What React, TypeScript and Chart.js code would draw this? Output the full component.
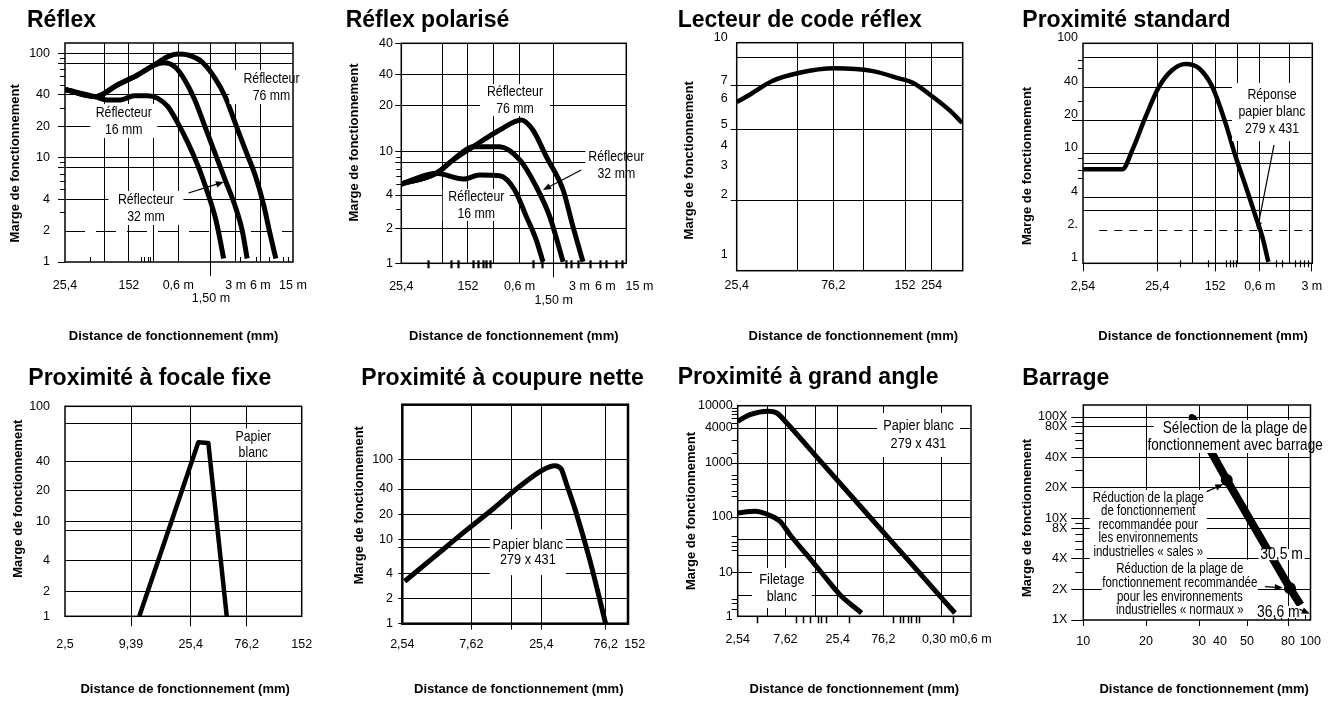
import React, { useEffect, useRef } from 'react';
import { Chart, Scale, registerables } from 'chart.js';

type Pt = [number, number];

// ================= DATA =================
// --- Réflex ---
const reflexXTicks = [25.4, 76.2, 152.4, 304.8, 609.6, 1524, 3048, 6096, 15240];
const reflexXLabels = ['25,4', '', '152', '', '0,6 m', '\n1,50 m', '3 m', '6 m', '15 m'];
const reflexYTicks = [1, 2, 4, 8, 10, 20, 40, 80, 100];
const reflexYLabels = ['1', '2', '4', '', '10', '20', '40', '', '100'];
const reflex16: Pt[] = [[25.4, 45], [59.5, 38.4], [83, 35.7], [121, 35.7], [177, 39.3], [258, 39.3], [343, 37], [456, 30.8], [605, 21.3], [805, 13.7], [1069, 8.2], [1353, 4.9], [1712, 2.72], [1976, 1.62], [2174, 1.08]];
const reflex32: Pt[] = [[25.4, 45], [59.5, 38.4], [110, 49.7], [194.5, 62], [312, 77.3], [414, 81.3], [551, 74.4], [731, 55.5], [970, 35.7], [1290, 19.8], [1712, 11], [2276, 6.1], [3023, 3.39], [3655, 2.03], [4213, 1.08]];
const reflex76: Pt[] = [[25.4, 45], [59.5, 38.4], [110, 49.7], [194.5, 62], [312, 77.3], [456, 92.9], [605, 98.5], [805, 96.3], [1174, 83.1], [1712, 57.6], [2276, 38.4], [3023, 21.3], [4016, 11.8], [5336, 6.6], [6772, 3.39], [7800, 2.03], [9416, 1.08]];

// --- Réflex polarisé ---
const polarYTicks = [1, 2, 4, 8, 10, 20, 40, 100];
const polarYLabels = ['1', '2', '4', '', '10', '20', '40', '40'];
const polar16: Pt[] = [[25.4, 5.05], [65, 6.33], [134, 5.6], [208, 6.1], [357, 6.0], [534, 4.45], [731, 2.55], [953, 1.59], [1143, 1.03]];
const polar32: Pt[] = [[25.4, 5.05], [65, 6.33], [102, 8.4], [175, 10.8], [357, 10.8], [613, 8.4], [953, 4.77], [1371, 2.55], [1962, 1.03]];
const polar76: Pt[] = [[25.4, 5.05], [65, 6.33], [102, 8.4], [175, 10.8], [357, 13.9], [638, 16.2], [872, 13.9], [1250, 9.0], [1962, 4.45], [2558, 2.07], [3348, 1.03]];

// --- Lecteur de code réflex ---
const codeXTicks = [25.4, 50.8, 76.2, 101.6, 152.4, 254];
const codeXLabels = ['25,4', '', '76,2', '', '152', '254'];
const codeYTicks = [1, 2, 3, 4, 5, 6, 7, 9, 10];
const codeYLabels = ['1', '2', '3', '4', '5', '6', '7', '', '10'];
const codeCurve: Pt[] = [[25.4, 6.1], [29.3, 6.47], [38.1, 7.3], [51.9, 7.86], [77, 8.18], [111.7, 7.98], [143.6, 7.48], [176.7, 7.19], [259, 6.38], [355, 5.75], [455, 5.24]];

// --- Proximité standard ---
const stdXTicks = [2.54, 25.4, 76.2, 152.4, 304.8, 609.6, 1524, 3048];
const stdXLabels = ['2,54', '25,4', '', '152', '', '0,6 m', '', '3 m'];
const stdYTicks = [1, 2, 3, 4, 8, 10, 20, 40, 75, 100];
const stdYLabels = ['1', '2.', '', '4', '', '10', '20', '40', '', '100'];
const stdCurve: Pt[] = [[2.54, 7.16], [8.6, 7.16], [11.7, 10.7], [17.7, 21.5], [26.8, 40.3], [40.4, 57.2], [61.1, 64.9], [92.4, 59.3], [139.5, 40.3], [211, 18.7], [288, 9.3], [394, 5.0], [536, 2.65], [657, 1.75], [793, 1.03]];

// --- Proximité à focale fixe ---
const focXTicks = [2.5, 9.39, 25.4, 76.2, 152];
const focXLabels = ['2,5', '9,39', '25,4', '76,2', '152'];
const focYTicks = [1, 2, 4, 8, 10, 20, 40, 75, 100];
const focYLabels = ['1', '2', '4', '', '10', '20', '40', '', '100'];
const focCurve: Pt[] = [[10.78, 1], [29.5, 54.9], [35.9, 54.3], [51.5, 1]];

// --- Proximité à coupure nette ---
const cutXTicks = [2.54, 7.62, 15.24, 25.4, 76.2, 152];
const cutXLabels = ['2,54', '7,62', '', '25,4', '76,2', '152'];
const cutYTicks = [1, 2, 4, 8, 10, 20, 40, 100];
const cutYLabels = ['1', '2', '4', '', '10', '20', '40', '100'];
const cutCurve: Pt[] = [[2.64, 3.2], [4.14, 6.07], [7.02, 12.9], [11.2, 23.5], [17.6, 43.5], [26.2, 72.9], [31.9, 82.5], [35.7, 74.3], [38.8, 48.2], [46.1, 20.8], [58, 5.78], [76.2, 1]];

// --- Proximité à grand angle ---
const wideXTicks = [2.54, 5.08, 7.62, 15.24, 25.4, 76.2, 304.8, 609.6];
const wideXLabels = ['2,54', '', '7,62', '', '25,4', '76,2', '0,30 m', '0,6 m'];
const wideYTicks = [1, 3, 10, 20, 40, 100, 200, 1000, 4000, 10000];
const wideYLabels = ['1', '', '10', '', '', '100', '', '1000', '4000', '10000'];
const wideWhite: Pt[] = [[2.54, 5270], [3.37, 6910], [5.13, 7950], [6.25, 7410], [7.86, 4920], [15.4, 1315], [50.1, 121], [167, 11.5], [402, 1.19]];
const wideThread: Pt[] = [[2.54, 118.6], [3.78, 127.5], [5.13, 110], [6.72, 83.6], [8.46, 47.9], [12.45, 20.8], [18.2, 8.8], [26.8, 3.1], [45.2, 1.19]];

// --- Barrage ---
const barXTicks = [10, 20, 30, 40, 50, 80, 100];
const barXLabels = ['10', '20', '30', '40', '50', '80', '100'];
const barYTicks = [1, 2, 4, 8, 10, 20, 40, 80, 100];
const barYLabels = ['1X', '2X', '4X', '8X', '10X', '20X', '40X', '80X', '100X'];
const barLine: Pt[] = [[28.4, 100], [42.3, 24], [81.6, 2.05], [90.6, 1.41]];
const barDots: Pt[] = [[42.3, 24], [81.6, 2.05]];
const barStart: Pt[] = [[28.4, 100]];

const Y_TITLE = 'Marge de fonctionnement';
const X_TITLE = 'Distance de fonctionnement (mm)';

// ================= FONTS =================
const SANS = "'Liberation Sans', Arial, Helvetica, sans-serif";
const NARROW_SCALE = 0.82;

// ================= KNOT (piecewise log) SCALE =================
interface AxisDef { kv: number[]; kf: number[]; ticks: number[] }
const AXES: Record<string, AxisDef> = {};

class KnotScale extends Scale {
  static id = 'knot';
  static defaults = {};
  determineDataLimits() {
    const d = AXES[(this.options as any).knotKey];
    (this as any)._def = d;
    this.min = this._valAt(0);
    this.max = this._valAt(1);
  }
  buildTicks() {
    return (this as any)._def.ticks.map((value: number) => ({ value }));
  }
  getLabelForValue(v: number) { return String(v); }
  _fracOf(v: number) {
    const { kv, kf } = (this as any)._def as AxisDef;
    const lv = Math.log10(v);
    let i = 0;
    while (i < kv.length - 2 && lv > kv[i + 1]) i++;
    return kf[i] + ((kf[i + 1] - kf[i]) * (lv - kv[i])) / (kv[i + 1] - kv[i]);
  }
  _valAt(f: number) {
    const { kv, kf } = (this as any)._def as AxisDef;
    let i = 0;
    while (i < kf.length - 2 && f > kf[i + 1]) i++;
    return Math.pow(10, kv[i] + ((kv[i + 1] - kv[i]) * (f - kf[i])) / (kf[i + 1] - kf[i]));
  }
  getPixelForValue(v: number) { return this.getPixelForDecimal(this._fracOf(v)); }
  getValueForPixel(p: number) { return this._valAt(this.getDecimalForPixel(p)); }
}

Chart.register(...registerables, KnotScale as any);

// ================= PANEL LAYOUT =================
interface AxisCfg { knots: Pt[]; ticks: number[]; labels: string[]; grid: number[]; marks: number[]; tl: number; pad: number; offset?: number }
interface Series { data: Pt[]; width: number; smooth: boolean }
interface Note { x: number; y: number; lines: string[]; w: number; h: number; size: number; lh: number }
interface Minor { values: number[]; a: number; b: number; w: number }
interface Panel {
  title: string; tx: number; tb: number; left: number; top: number;
  plot: [number, number, number, number];
  x: AxisCfg; y: AxisCfg; yTitleX: number; frame: number;
  xShift: number; yShift: number; // title centring nudges, in spaces (+ = lead, - = trail)
  series: Series[]; dots?: { data: Pt[]; r: number }[];
  dashed?: { y: number; from?: number; dash: number[] }[];
  notes?: Note[]; arrows?: { from: Pt; to: Pt }[];
  minorX?: Minor; minorY?: Minor;
}

const W = 333;
const H = 353;

const PANELS: Panel[] = [
  {
    title: 'Réflex', tx: 27, tb: 27, left: 0, top: 0, plot: [65, 43, 293, 262], yTitleX: 15, frame: 1.5, xShift: -3, yShift: -6,
    x: { knots: [[25.4, 65], [15240, 293]], ticks: reflexXTicks, labels: reflexXLabels, grid: [76.2, 152.4, 304.8, 609.6, 1524, 3048, 6096], marks: [1524], tl: 14, pad: 2.7 },
    y: { knots: [[1, 262], [100, 53.3]], ticks: reflexYTicks, labels: reflexYLabels, grid: [4, 8, 10, 20, 40, 80, 100], marks: [1, 4, 8, 10, 20, 40, 80, 100], tl: 7, pad: 8 },
    series: [{ data: reflex16, width: 5, smooth: true }, { data: reflex32, width: 5, smooth: true }, { data: reflex76, width: 5, smooth: true }],
    dashed: [{ y: 2, dash: [20, 11] }],
    notes: [
      { x: 8330, y: 47.5, lines: ['Réflecteur', '76 mm'], w: 84, h: 34, size: 15, lh: 17 },
      { x: 132, y: 22.5, lines: ['Réflecteur', '16 mm'], w: 67, h: 34, size: 15, lh: 17 },
      { x: 246, y: 3.3, lines: ['Réflecteur', '32 mm'], w: 75, h: 34, size: 15, lh: 17 },
    ],
    arrows: [{ from: [811, 4.58], to: [2193, 5.85] }],
    minorX: { values: [51.6, 213, 234, 259, 279, 3480, 5330, 7790, 11400, 13100], a: -5, b: 0, w: 1 },
    minorY: { values: [3, 5, 6, 7, 9, 30, 50, 60, 70, 90], a: -5, b: 0, w: 1 },
  },
  {
    title: 'Réflex polarisé', tx: 345.7, tb: 27, left: 333, top: 0, plot: [401.3, 43.3, 626.3, 263.3], yTitleX: 21.7, frame: 1.5, xShift: 0, yShift: 6,
    x: { knots: [[25.4, 401.3], [15240, 639.4]], ticks: reflexXTicks, labels: reflexXLabels, grid: [76.2, 152.4, 304.8, 609.6, 1524], marks: [1524], tl: 14, pad: 3.1 },
    y: { knots: [[1, 263.3], [2, 228.3], [4, 195], [10, 151.7], [20, 106], [40, 75], [100, 43.3]], ticks: polarYTicks, labels: polarYLabels, grid: [2, 4, 8, 10, 20, 40], marks: [1, 2, 4, 8, 10, 20, 40, 100], tl: 6, pad: 2.3 },
    series: [{ data: polar16, width: 5, smooth: true }, { data: polar32, width: 5, smooth: true }, { data: polar76, width: 5, smooth: true }],
    notes: [
      { x: 539, y: 22.9, lines: ['Réflecteur', '76 mm'], w: 70, h: 32, size: 15, lh: 17 },
      { x: 8199, y: 7.55, lines: ['Réflecteur', '32 mm'], w: 62, h: 30, size: 15, lh: 17 },
      { x: 190.5, y: 3.25, lines: ['Réflecteur', '16 mm'], w: 67, h: 32, size: 15, lh: 17 },
    ],
    arrows: [{ from: [3198, 6.79], to: [1143, 4.45] }],
    minorX: { values: [52, 97, 116, 174, 201, 226, 250, 279, 868, 1112, 2128, 2440, 2930, 4030, 5240, 6270, 8230, 9430], a: -3, b: 5, w: 2.2 },
    minorY: { values: [3, 5, 6, 7, 9], a: -5, b: 0, w: 1 },
  },
  {
    title: 'Lecteur de code réflex', tx: 677.7, tb: 27, left: 666, top: 0, plot: [736.7, 42.7, 962.7, 270.7], yTitleX: 23.3, frame: 1.5, xShift: 2, yShift: -2,
    x: { knots: [[25.4, 736.7], [76.2, 833.3], [152.4, 905], [254, 931.7], [460, 962.7]], ticks: codeXTicks, labels: codeXLabels, grid: [50.8, 76.2, 101.6, 152.4, 254], marks: [], tl: 0, pad: 8 },
    y: { knots: [[0.88, 270.7], [1, 260], [2, 200], [3, 171], [4, 151], [5, 129.3], [6, 104], [7, 85.7], [9, 57.7], [10, 42.7]], ticks: codeYTicks, labels: codeYLabels, grid: [2, 5, 7, 9], marks: [2, 5, 7], tl: 6, pad: 3, offset: -5 },
    series: [{ data: codeCurve, width: 4.5, smooth: true }],
  },
  {
    title: 'Proximité standard', tx: 1022.3, tb: 27, left: 999, top: 0, plot: [1083, 43.3, 1312.3, 263.3], yTitleX: 28.3, frame: 1.5, xShift: 3, yShift: -7,
    x: { knots: [[2.54, 1083], [3048, 1311.8]], ticks: stdXTicks, labels: stdXLabels, grid: [25.4, 76.2, 152.4, 304.8, 609.6, 1524], marks: [2.54, 25.4, 152.4, 609.6, 3048], tl: 8, pad: 8.4 },
    y: { knots: [[1, 263.3], [100, 43.3]], ticks: stdYTicks, labels: stdYLabels, grid: [3, 4, 8, 10, 20, 40, 75], marks: [20], tl: 11, pad: -6, offset: -6 },
    series: [{ data: stdCurve, width: 4.5, smooth: true }],
    dashed: [{ y: 2, from: 4.2, dash: [8, 7] }],
    notes: [{ x: 888, y: 23.7, lines: ['Réponse', 'papier blanc', '279 x 431'], w: 80, h: 58, size: 15, lh: 17 }],
    arrows: [{ from: [945, 11.9], to: [563, 2.01] }],
    minorX: { values: [52, 123, 211, 240, 265, 288, 994, 1214, 1815, 2100, 2400, 2740], a: -3, b: 4, w: 1.2 },
    minorY: { values: [6, 7, 9, 30, 60, 70], a: -5, b: 0, w: 1 },
  },
  {
    title: 'Proximité à focale fixe', tx: 28.3, tb: 385, left: 0, top: 353, plot: [65, 406.3, 301.7, 616.3], yTitleX: 18.3, frame: 1.5, xShift: 1, yShift: 7,
    x: { knots: [[2.5, 65], [9.39, 131], [25.4, 190.7], [76.2, 246.7], [152, 301.7]], ticks: focXTicks, labels: focXLabels, grid: [9.39, 25.4, 76.2], marks: [9.39, 25.4, 76.2], tl: 10, pad: 12 },
    y: { knots: [[1, 616.3], [2, 591.3], [4, 560.3], [10, 521.3], [20, 490.3], [40, 461.3], [100, 406.3]], ticks: focYTicks, labels: focYLabels, grid: [2, 4, 8, 10, 20, 40, 75], marks: [], tl: 0, pad: 15 },
    series: [{ data: focCurve, width: 4.5, smooth: false }],
    notes: [{ x: 82.8, y: 53, lines: ['Papier', 'blanc'], w: 46, h: 32, size: 15, lh: 16 }],
  },
  {
    title: 'Proximité à coupure nette', tx: 361.3, tb: 385, left: 333, top: 353, plot: [402.3, 404.7, 628, 623.7], yTitleX: 26.7, frame: 2.5, xShift: 2, yShift: 5,
    x: { knots: [[2.54, 402.3], [7.62, 471.3], [15.24, 511.3], [25.4, 541.3], [76.2, 605.7], [152, 634.7]], ticks: cutXTicks, labels: cutXLabels, grid: [7.62, 15.24, 25.4, 76.2], marks: [7.62, 15.24, 25.4, 76.2], tl: 6, pad: 8.7 },
    y: { knots: [[1, 623.7], [10, 539.7], [40, 489], [100, 459.5]], ticks: cutYTicks, labels: cutYLabels, grid: [2, 4, 8, 10, 20, 40, 100], marks: cutYTicks, tl: 4, pad: 5.3 },
    series: [{ data: cutCurve, width: 5, smooth: true }],
    notes: [{ x: 20.2, y: 7.1, lines: ['Papier blanc', '279 x 431'], w: 76, h: 46, size: 15.5, lh: 15 }],
  },
  {
    title: 'Proximité à grand angle', tx: 677.7, tb: 384, left: 666, top: 353, plot: [737.7, 405.7, 971, 616.3], yTitleX: 25, frame: 1.5, xShift: 0, yShift: 0,
    x: { knots: [[2.54, 737.7], [25.4, 837.7], [76.2, 883.3], [304.8, 941], [609.6, 976]], ticks: wideXTicks, labels: wideXLabels, grid: [5.08, 7.62, 15.24, 25.4, 76.2, 304.8], marks: [], tl: 0, pad: 17 },
    y: { knots: [[1, 616.3], [10, 572.3], [100, 517], [1000, 463], [4000, 428], [10000, 405.7]], ticks: wideYTicks, labels: wideYLabels, grid: [3, 10, 20, 40, 100, 200, 1000, 4000], marks: [10, 100, 1000, 4000], tl: 6, pad: -1 },
    series: [{ data: wideWhite, width: 5, smooth: true }, { data: wideThread, width: 5, smooth: true }],
    notes: [
      { x: 177.5, y: 3034, lines: ['Papier blanc', '279 x 431'], w: 83, h: 44, size: 15.5, lh: 18 },
      { x: 7.03, y: 4.4, lines: ['Filetage', 'blanc'], w: 60, h: 40, size: 15.5, lh: 17 },
    ],
    minorX: { values: [4, 9.8, 11.4, 13.3, 16, 17.3, 19.5, 33.5, 97, 113, 122, 137, 148, 167, 180, 390], a: 0, b: 7, w: 1.5 },
    minorY: { values: [1.5, 2, 2.5, 25, 30, 35, 45, 250, 300, 400, 500, 600, 1500, 2500, 5000, 6000, 7000, 8000, 9000], a: -6, b: 0, w: 1 },
  },
  {
    title: 'Barrage', tx: 1022.3, tb: 385, left: 999, top: 353, plot: [1083.3, 405, 1310.5, 620], yTitleX: 28.3, frame: 1.5, xShift: 4, yShift: -3,
    x: { knots: [[10, 1083.3], [20, 1146], [30, 1199], [40, 1220], [50, 1247], [80, 1288], [100, 1310.5]], ticks: barXTicks, labels: barXLabels, grid: [20, 30, 50, 80], marks: [10, 20, 30, 50, 80], tl: 6, pad: 9 },
    y: { knots: [[1, 620], [100, 417]], ticks: barYTicks, labels: barYLabels, grid: [2, 4, 8, 10, 20, 40, 80, 100], marks: barYTicks, tl: 12, pad: 4 },
    series: [{ data: barLine, width: 8, smooth: false }],
    dots: [{ data: barDots, r: 6 }, { data: barStart, r: 3 }],
    notes: [
      { x: 45.3, y: 64.3, lines: ['Sélection de la plage de', 'fonctionnement avec barrage'], w: 163, h: 33, size: 16.5, lh: 17 },
      { x: 20.35, y: 8.63, lines: ['Réduction de la plage', 'de fonctionnement', 'recommandée pour', 'les environnements', 'industrielles « sales »'], w: 117, h: 70, size: 14, lh: 13.4 },
      { x: 74.4, y: 4.4, lines: ['30,5 m'], w: 46, h: 11, size: 17, lh: 16 },
      { x: 25.9, y: 1.98, lines: ['Réduction de la plage de', 'fonctionnement recommandée', 'pour les environnements', 'industrielles « normaux »'], w: 156, h: 60, size: 14, lh: 13.7 },
      { x: 71.6, y: 1.2, lines: ['36,6 m'], w: 46, h: 12, size: 17, lh: 16 },
    ],
    arrows: [
      { from: [33.3, 18.4], to: [41.1, 21.7] },
      { from: [61.5, 2.13], to: [75.3, 2.08] },
      { from: [89.6, 1.28], to: [99.3, 1.15] },
    ],
    minorX: { values: [42, 56, 61, 69, 74, 86, 95], a: -5, b: 0, w: 1 },
    minorY: { values: [3, 5, 6, 7, 9, 30, 50, 60, 70, 90], a: -8, b: 0, w: 1 },
  },
];

// ================= PLUGIN =================
function drawArrow(ctx: CanvasRenderingContext2D, x1: number, y1: number, x2: number, y2: number) {
  const ang = Math.atan2(y2 - y1, x2 - x1);
  const hl = 8, hw = 3.2;
  ctx.beginPath();
  ctx.moveTo(x1, y1);
  ctx.lineTo(x2 - Math.cos(ang) * hl * 0.8, y2 - Math.sin(ang) * hl * 0.8);
  ctx.stroke();
  ctx.beginPath();
  ctx.moveTo(x2, y2);
  ctx.lineTo(x2 - Math.cos(ang) * hl - Math.sin(ang) * hw, y2 - Math.sin(ang) * hl + Math.cos(ang) * hw);
  ctx.lineTo(x2 - Math.cos(ang) * hl + Math.sin(ang) * hw, y2 - Math.sin(ang) * hl - Math.cos(ang) * hw);
  ctx.closePath();
  ctx.fill();
}

function extras(p: Panel) {
  return {
    id: 'extras',
    beforeDatasetsDraw(chart: any) {
      const { ctx, chartArea: a } = chart;
      const xs = chart.scales.x, ys = chart.scales.y;
      ctx.save();
      ctx.strokeStyle = '#000';
      for (const d of p.dashed || []) {
        const py = Math.round(ys.getPixelForValue(d.y)) + 0.5;
        const x0 = d.from ? xs.getPixelForValue(d.from) : a.left;
        ctx.lineWidth = 1.2;
        ctx.setLineDash(d.dash);
        ctx.beginPath();
        ctx.moveTo(x0, py);
        ctx.lineTo(a.right, py);
        ctx.stroke();
      }
      ctx.setLineDash([]);
      if (p.minorX) {
        ctx.lineWidth = p.minorX.w;
        for (const v of p.minorX.values) {
          const px = Math.round(xs.getPixelForValue(v)) + 0.5;
          ctx.beginPath();
          ctx.moveTo(px, a.bottom + p.minorX.a);
          ctx.lineTo(px, a.bottom + p.minorX.b);
          ctx.stroke();
        }
      }
      if (p.minorY) {
        ctx.lineWidth = p.minorY.w;
        for (const v of p.minorY.values) {
          const py = Math.round(ys.getPixelForValue(v)) + 0.5;
          ctx.beginPath();
          ctx.moveTo(a.left + p.minorY.a, py);
          ctx.lineTo(a.left + p.minorY.b, py);
          ctx.stroke();
        }
      }
      ctx.restore();
    },
    afterDatasetsDraw(chart: any) {
      const { ctx, chartArea: a } = chart;
      const xs = chart.scales.x, ys = chart.scales.y;
      ctx.save();
      for (const n of p.notes || []) {
        const cx = xs.getPixelForValue(n.x), cy = ys.getPixelForValue(n.y);
        ctx.fillStyle = '#fff';
        ctx.fillRect(cx - n.w / 2, cy - n.h / 2, n.w, n.h);
      }
      ctx.fillStyle = '#000';
      ctx.textAlign = 'center';
      ctx.textBaseline = 'middle';
      for (const n of p.notes || []) {
        const cx = xs.getPixelForValue(n.x), cy = ys.getPixelForValue(n.y);
        ctx.font = `${n.size}px ${SANS}`;
        n.lines.forEach((t, i) => {
          ctx.save();
          ctx.translate(cx, cy + (i - (n.lines.length - 1) / 2) * n.lh);
          ctx.scale(NARROW_SCALE, 1);
          ctx.fillText(t, 0, 0);
          ctx.restore();
        });
      }
      ctx.strokeStyle = '#000';
      ctx.lineWidth = 1.2;
      for (const ar of p.arrows || []) {
        drawArrow(ctx, xs.getPixelForValue(ar.from[0]), ys.getPixelForValue(ar.from[1]), xs.getPixelForValue(ar.to[0]), ys.getPixelForValue(ar.to[1]));
      }
      ctx.lineWidth = p.frame;
      ctx.strokeRect(a.left, a.top, a.right - a.left, a.bottom - a.top);
      ctx.restore();
    },
  };
}

function splitLabel(s: string | undefined) {
  if (!s) return '';
  return s.includes('\n') ? s.split('\n') : s;
}

// nudge a centred title along its axis with plain spacing
function nudge(text: string, n: number) {
  const sp = ' '.repeat(Math.abs(n));
  return n > 0 ? sp + text : n < 0 ? text + sp : text;
}

function buildChart(canvas: HTMLCanvasElement, p: Panel, idx: number) {
  const [L, T, R, B] = p.plot;
  const kx = `p${idx}x`, ky = `p${idx}y`;
  AXES[kx] = { kv: p.x.knots.map((k) => Math.log10(k[0])), kf: p.x.knots.map((k) => (k[1] - L) / (R - L)), ticks: p.x.ticks };
  AXES[ky] = { kv: p.y.knots.map((k) => Math.log10(k[0])), kf: p.y.knots.map((k) => (B - k[1]) / (B - T)), ticks: p.y.ticks };
  const gx = new Set(p.x.grid), mx = new Set(p.x.marks), gy = new Set(p.y.grid), my = new Set(p.y.marks);
  const clr = (s: Set<number>) => (c: any) => (c.tick && s.has(c.tick.value) ? '#000' : 'rgba(0,0,0,0)');
  const datasets: any[] = p.series.map((s) => ({
    data: s.data.map(([x, y]) => ({ x, y })),
    borderColor: '#000', borderWidth: s.width, pointRadius: 0, fill: false,
    tension: 0, cubicInterpolationMode: s.smooth ? 'monotone' : 'default',
    borderCapStyle: 'butt', borderJoinStyle: 'round', clip: 0,
  }));
  for (const d of p.dots || []) {
    datasets.push({
      data: d.data.map(([x, y]) => ({ x, y })), showLine: false, pointRadius: d.r,
      pointBackgroundColor: '#000', pointBorderWidth: 0, borderWidth: 0, clip: false,
    });
  }
  const tickFont = { family: SANS, size: 12.5, lineHeight: 1.05 };
  const titleFont = { family: SANS, size: 13, weight: 'bold' as const, lineHeight: 1.2 };
  return new Chart(canvas, {
    type: 'line',
    data: { datasets },
    options: {
      responsive: false,
      animation: false,
      events: [],
      layout: { padding: { left: 0, top: T - p.top, right: p.left + W - R, bottom: 0 } },
      plugins: { legend: { display: false }, tooltip: { enabled: false }, title: { display: false } },
      scales: {
        x: {
          type: 'knot', knotKey: kx, position: 'bottom',
          border: { display: false },
          grid: { color: clr(gx), tickColor: clr(mx), lineWidth: 1, tickWidth: 1, tickLength: p.x.tl, drawTicks: p.x.tl > 0 },
          ticks: {
            autoSkip: false, maxRotation: 0, minRotation: 0, padding: p.x.pad, color: '#000', font: tickFont,
            callback: (_v: any, i: number) => splitLabel(p.x.labels[i]),
          },
          title: { display: true, text: nudge(X_TITLE, p.xShift), color: '#000', font: titleFont, padding: { top: 0, bottom: 8.5 } },
          afterFit: (s: any) => { s.height = p.top + H - B; s.paddingLeft = 0; s.paddingRight = 0; },
        },
        y: {
          type: 'knot', knotKey: ky, position: 'left',
          border: { display: false },
          grid: { color: clr(gy), tickColor: clr(my), lineWidth: 1, tickWidth: 1, tickLength: p.y.tl, drawTicks: p.y.tl > 0 },
          ticks: {
            autoSkip: false, padding: p.y.pad, color: '#000', font: tickFont, labelOffset: p.y.offset || 0,
            callback: (_v: any, i: number) => splitLabel(p.y.labels[i]),
          },
          title: { display: true, text: nudge(Y_TITLE, p.yShift), color: '#000', font: titleFont, padding: { top: p.yTitleX - 7.8, bottom: 0 } },
          afterFit: (s: any) => { s.width = L - p.left; s.paddingTop = 0; s.paddingBottom = 0; },
        },
      } as any,
    },
    plugins: [extras(p) as any],
  } as any);
}

function PanelView({ p, idx }: { p: Panel; idx: number }) {
  const ref = useRef<HTMLCanvasElement | null>(null);
  useEffect(() => {
    if (!ref.current) return;
    const chart = buildChart(ref.current, p, idx);
    return () => chart.destroy();
  }, [p, idx]);
  return (
    <>
      <canvas ref={ref} width={W} height={H} style={{ position: 'absolute', left: p.left, top: p.top, width: W, height: H }} />
      <div
        style={{
          position: 'absolute', left: p.tx, top: p.tb - 19.5, font: `bold 23px ${SANS}`,
          lineHeight: '23px', whiteSpace: 'nowrap', color: '#000',
        }}
      >
        {p.title}
      </div>
    </>
  );
}

export default function App() {
  useEffect(() => {
    document.body.style.margin = '0';
    document.body.style.background = '#fff';
  }, []);
  return (
    <div style={{ position: 'relative', width: 1332, height: 706, background: '#fff', overflow: 'hidden' }}>
      {PANELS.map((p, i) => (
        <PanelView key={i} p={p} idx={i} />
      ))}
    </div>
  );
}
